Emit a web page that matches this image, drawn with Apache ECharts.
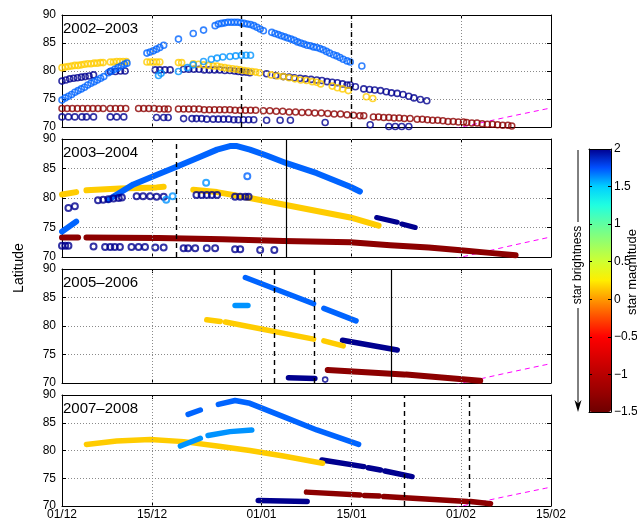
<!DOCTYPE html>
<html><head><meta charset="utf-8">
<script src="https://cdn.jsdelivr.net/npm/echarts@6/dist/echarts.min.js"></script>
<style>html,body{margin:0;padding:0;background:#fff}#c{width:637px;height:523px}</style>
</head><body><div id="c"></div>
<script>
// ---------- axes / labels ----------
const tickDays = [0, 14, 31, 45, 62, 76];
const tickLabels = ['01/12', '15/12', '01/01', '15/01', '01/02', '15/02'];
const panelTitles = ['2002–2003', '2003–2004', '2005–2006', '2007–2008'];
const magMin = -1.5, magMax = 2;
// colormap from -1.5 to 2 in steps of 0.25
const cmapColors = ['#6e0000','#960000','#b80000','#dc0000','#ff0000','#ff4a00','#ff9900','#ffee00','#d0ff30','#98ff68','#60ffa0','#20ffe0','#00d0ff','#0050ff','#00008f'];
// star magnitudes
const starMag = { blue: 1.71, lightBlue: 1.62, yellow: 0.15, navy: 2.0, darkRed: -1.31 };

// ---------- Panel 1 (2002-2003) : individual markers ----------
const p1Blue = [[0,74.8],[0.5,75.2],[1,75.5],[1.5,75.8],[2,76.2],[2.5,76.5],[3,76.8],[3.5,77.1],[4,77.5],[4.5,77.8],[5,78.1],[5.5,78.4],[6,78.7],[6.5,79.0],
 [7.2,79.7],[7.7,80.0],[8.2,80.3],[8.7,80.6],[9.2,80.9],[9.7,81.2],[10.1,81.4],
 [13.2,83.2],[13.7,83.4],[14.2,83.6],[14.7,83.9],[15.2,84.2],[15.8,84.6],
 [18.1,85.7],[20.4,86.7],[22,87.3],[23.8,88.1],[24.3,88.4],[24.8,88.5],[25.3,88.6],[25.8,88.7],[26.3,88.7],[26.8,88.7],[27.3,88.7],[27.8,88.6],[28.3,88.5],[28.8,88.4],[29.3,88.3],[29.8,88.1],[30.3,87.8],[30.8,87.5],[31.3,87.2],
 [32.6,86.9],[33.1,86.7],[33.6,86.5],[34.1,86.3],[34.6,86.1],[35.1,85.9],[35.6,85.7],[36.1,85.5],[36.6,85.2],[37.1,85.0],[37.6,84.8],[38.1,84.6],[38.6,84.5],[39.1,84.3],[39.6,84.2],[40.1,84.0],[40.6,83.8],[41.1,83.5],[41.6,83.2],[42.2,82.9],[42.7,82.7],[43.2,82.4],[43.7,82.1],[44.3,81.8],[44.8,81.6],[46.6,80.9]];
const p1LightBlue = [[15.0,79.2],[15.4,79.6],[18.1,79.9],[19.5,80.6],[20.4,81.1],[22,81.7],[23.2,82.1],[24.1,82.3],[25,82.5],[26.1,82.6],[27,82.7],[27.9,82.8],[28.6,82.8],[29.3,82.8]];
const p1Yellow = [[0,80.6],[0.5,80.7],[1,80.8],[1.5,80.9],[2,81.0],[2.5,81.0],[3,81.1],[3.5,81.2],[4,81.3],[4.5,81.3],[5,81.4],[5.5,81.4],[6,81.5],[6.4,81.5],
 [7.5,81.6],[8,81.6],[8.5,81.7],[9,81.7],[9.5,81.7],[10,81.7],
 [13.2,81.6],[13.7,81.6],[14.2,81.6],[14.7,81.6],[15.2,81.6],
 [18.1,81.5],[18.6,81.5],[20.4,81.3],[21.2,81.2],[22,81.1],[22.8,81.0],[23.5,80.9],[24.1,80.9],[24.7,80.7],[25.3,80.6],[25.9,80.5],[26.5,80.4],[27.1,80.3],[27.7,80.2],[28.3,80.1],[28.9,80.0],[29.5,79.9],[30.1,79.8],[30.7,79.7],
 [32.5,79.3],[33.5,79.1],[34.4,79.0],[35.3,78.8],[36.2,78.6],[37.1,78.4],[38,78.3],[38.9,78.1],[39.6,78.0],[40.2,77.7],[42,77.3],[42.8,77.0],[43.6,76.8],[44.5,76.5],[47.3,75.4],[48.3,75.1]];
const p1Navy = [[0,78.2],[0.6,78.4],[1.2,78.6],[1.8,78.7],[2.4,78.8],[3,78.9],[3.6,79.0],[4.2,79.1],[4.9,79.3],
 [7.5,79.9],[8.3,79.9],[9.1,80.0],[9.8,80.0],
 [14.5,80.2],[15.2,80.2],[16,80.2],[16.8,80.2],
 [18.9,80.3],[19.7,80.3],[20.5,80.3],[21.3,80.3],[22.1,80.2],[22.9,80.2],[23.7,80.2],[24.5,80.2],[25.3,80.1],[26.1,80.1],[26.8,80.0],[27.4,79.9],[28,79.8],[28.6,79.8],[29.2,79.7],
 [31.8,79.5],[33.2,79.2],[34.4,79.0],[35.3,78.9],[36.1,78.8],[37,78.7],[37.8,78.6],[38.7,78.5],[39.6,78.4],[40.4,78.3],[41.2,78.1],[42,78.0],[42.8,77.9],[43.6,77.7],[44.3,77.5],[44.8,77.5],[45.6,77.2],
 [46.9,76.8],[47.8,76.7],[48.6,76.6],[49.5,76.5],[50.4,76.3],[51.2,76.1],[52.1,76.0],[53.0,75.8],[53.9,75.5],[54.7,75.2],[55.7,74.9],[56.7,74.7]];
const p1DarkRed = [[0,73.3],[0.8,73.3],[1.6,73.3],[2.4,73.3],[3.2,73.3],[4,73.3],[4.8,73.3],[5.6,73.3],[6.4,73.3],
 [7.5,73.3],[8.3,73.3],[9.1,73.3],[9.9,73.3],
 [11.9,73.3],[12.7,73.3],[13.5,73.3],[14.3,73.3],[15.1,73.2],[15.9,73.2],[16.5,73.2],
 [18.1,73.2],[18.9,73.2],[19.7,73.2],[20.5,73.2],[21.3,73.2],[22.1,73.1],[22.9,73.1],[23.7,73.1],[24.5,73.1],[25.3,73.1],[26.1,73.1],[26.9,73.0],[27.7,73.0],[28.5,73.0],[29.3,73.0],[30.1,73.0],
 [31.3,72.9],[32.3,72.9],[33.3,72.8],[34.3,72.8],[35.3,72.7],[36.3,72.7],[37.3,72.6],[38.3,72.6],[39.3,72.5],[40.3,72.5],[41.3,72.4],[42.3,72.3],[43.3,72.3],[44.3,72.2],[45.3,72.1],[46.3,72.0],[46.9,72.0],
 [48.4,71.8],[49.2,71.8],[50,71.7],[50.8,71.7],[51.6,71.6],[52.4,71.6],[53.2,71.5],[54.1,71.5],
 [55.2,71.4],[56,71.4],[56.8,71.3],[57.6,71.2],[58.4,71.2],[59.2,71.1],[60,71.0],[60.8,71.0],[61.6,70.9],[62.4,70.9],
 [62.9,70.8],[63.7,70.7],[64.5,70.7],[65.3,70.6],[66.1,70.5],[66.9,70.5],[67.7,70.4],[68.5,70.3],[69.3,70.3],[69.9,70.2]];
const p1NavyLow = [[0,71.8],[1,71.8],[2,71.8],[3.1,71.8],[3.8,71.8],[4.9,71.8],[7.5,71.8],[8.5,71.8],[9.6,71.8],
 [14.7,71.7],[15.8,71.7],[16.5,71.7],
 [18.9,71.5],[20.2,71.5],[20.9,71.5],[21.7,71.5],[22.5,71.4],[23.5,71.4],[24.3,71.4],[25.1,71.4],[25.9,71.4],[26.7,71.3],[27.4,71.3],[28.2,71.3],[29.0,71.3],[29.8,71.3],
 [31.8,71.2],[33.9,71.2],[35.5,71.2],[40.9,70.8],[47.9,70.4],[50.8,70.1],[51.8,70.1],[52.8,70.1],[53.9,70.1]];

// ---------- Panel 2 (2003-2004) ----------
const p2Blue = [[[0,74.3],[2.2,76.0]],
 [[7.2,79.7],[11.1,82.3],[14.2,83.7],[17.8,85.3],[21.5,87.0],[24.1,88.2],[26.1,88.8],[27.2,88.8],[29.2,88.2],[31.8,87.2],[34.9,85.9],[39.6,84.2],[44.8,81.9],[46.3,81.1]]];
const p2LightBluePts = [[16.2,79.7],[17.2,80.3],[22.4,82.6]];
const p2BluePts = [[28.8,83.7]];
const p2Yellow = [[[0,80.6],[2.2,81.0]],
 [[3.8,81.3],[9,81.6],[14.7,81.8],[15.8,81.9]],
 [[20.4,81.4],[24.1,81.0],[29.2,80.0],[34.4,78.9],[39.6,77.8],[44.8,76.7],[49.2,75.3]]];
const p2NavyPts = [[1.0,78.3],[2.0,78.6],[5.6,79.6],[6.4,79.7],[7.2,79.8],[8.0,79.9],[8.8,80.0],[9.3,80.1],
 [11.6,80.3],[12.6,80.3],[13.7,80.3],[14.7,80.2],[15.8,80.2],
 [20.9,80.5],[21.7,80.5],[22.5,80.5],[23.3,80.5],[24.1,80.5],[26.9,80.2],[27.7,80.2],[28.5,80.2],[29.0,80.2]];
const p2Navy = [[[48.9,76.7],[52.1,75.9]], [[52.8,75.6],[54.9,75.0]]];
const p2DarkRed = [[[0,73.3],[2.5,73.3]],
 [[3.8,73.3],[15,73.2],[25,73.0],[34.4,72.7],[44.8,72.5],[51,72.0],[57,71.6],[62.4,71.1],[66.5,70.7],[70.5,70.3]]];
const p2NavyLow = [[0,71.9],[0.5,71.9],[1.0,71.9],[4.9,71.8],[6.7,71.7],[7.5,71.7],[8.2,71.7],[9.0,71.7],
 [10.8,71.7],[11.9,71.7],[12.9,71.7],[14.5,71.6],[15.8,71.6],[18.9,71.5],[19.6,71.5],[20.7,71.5],
 [22.5,71.5],[23.8,71.5],[26.9,71.3],[27.7,71.3],[30.8,71.2],[33.0,71.2]];

// ---------- Panel 3 (2005-2006) ----------
const p3Blue = [[[28.5,88.5],[39.1,83.9]], [[40.7,83.1],[45.7,80.9]]];
const p3LightBlue = [[[26.9,83.6],[28.9,83.6]]];
const p3Yellow = [[[22.5,81.1],[24.6,80.8]], [[25.4,80.7],[39.1,77.7]], [[40.7,77.4],[43.7,76.5]]];
const p3Navy = [[[43.6,77.5],[52.1,75.8]], [[35.2,70.9],[39.3,70.8]]];
const p3NavyPts = [[40.9,70.6]];
const p3DarkRed = [[[41.3,72.3],[53.1,71.5]], [[53.5,71.5],[65,70.4]]];

// ---------- Panel 4 (2007-2008) ----------
const p4Blue = [[[19.6,86.5],[21.5,87.3]], [[24.3,88.3],[26.9,89.0],[29.2,88.5],[34.4,86.1],[39.6,83.7],[46.1,81.1]]];
const p4LightBlue = [[[18.4,80.8],[21.5,82.2]], [[22.7,82.7],[26.1,83.4],[29.5,83.7]]];
const p4Yellow = [[[3.8,81.1],[8.5,81.7],[13.7,82.0],[18.9,81.6],[24.1,80.8],[29.2,80.0],[34.4,79.0],[40.5,77.7]]];
const p4Navy = [[[40.4,78.3],[46.9,77.1]], [[47.6,76.9],[49.5,76.5]], [[50.2,76.3],[54.4,75.3]], [[30.5,71.0],[38.1,70.8]]];
const p4DarkRed = [[[38,72.5],[46.3,72.0]], [[47,71.9],[49.3,71.8]], [[50,71.7],[63,70.8]], [[63.5,70.8],[66.6,70.4]]];

// ---------- event lines and limit curve ----------
const dashedDays = [[27.8, 44.9], [17.8], [33.0, 39.2], [53.2, 63.3]];
const solidDays = [[], [34.9], [51.2], []];
const limitCurve = [[61,69.7],[68.5,71.6],[76,73.4]];

// ---------- helpers ----------
function hexToRgb(h){return [parseInt(h.slice(1,3),16),parseInt(h.slice(3,5),16),parseInt(h.slice(5,7),16)];}
function magColor(m){
  const t = (m - magMin) / (magMax - magMin) * (cmapColors.length - 1);
  const i = Math.max(0, Math.min(cmapColors.length - 2, Math.floor(t)));
  const f = Math.min(1, Math.max(0, t - i));
  const a = hexToRgb(cmapColors[i]), b = hexToRgb(cmapColors[i+1]);
  const c = a.map((v,k)=>Math.round(v + (b[k]-v)*f));
  return 'rgb(' + c.join(',') + ')';
}
const FONT = '"Liberation Sans", Arial, Helvetica, sans-serif';
const layout = [{top:15,height:112},{top:139,height:118},{top:269,height:114},{top:395,height:111}];
const LEFT = 62, WIDTH = 489;

const grid = [], xAxis = [], yAxis = [], series = [];
// dummy series (visualMap target)
series.push({type:'scatter', data:[], xAxisIndex:0, yAxisIndex:0, silent:true});

layout.forEach((g,i)=>{
  grid.push({left:LEFT, width:WIDTH, top:g.top, height:g.height, show:false, outerBoundsMode:'none'});
  const axLine = {show:true, onZero:false, lineStyle:{color:'#000', width:1}};
  xAxis.push({gridIndex:i, type:'value', min:0, max:76, position:'bottom', axisLine:axLine,
    axisTick:{show:true, inside:true, length:4, customValues:tickDays, lineStyle:{color:'#000'}},
    axisLabel:{show:i===3, customValues:tickDays, margin:3, fontSize:12, color:'#000', fontFamily:FONT,
      formatter:v=>{const k=tickDays.indexOf(v);return k>=0?tickLabels[k]:'';}},
    splitLine:{show:false}});
  xAxis.push({gridIndex:i, type:'value', min:0, max:76, position:'top', axisLine:axLine,
    axisTick:{show:true, inside:true, length:4, customValues:tickDays, lineStyle:{color:'#000'}},
    axisLabel:{show:false}, splitLine:{show:false}});
  yAxis.push({gridIndex:i, type:'value', min:70, max:90, interval:5, position:'left', axisLine:axLine,
    axisTick:{show:true, inside:true, length:4, lineStyle:{color:'#000'}},
    axisLabel:{margin:6, fontSize:12, color:'#000', fontFamily:FONT},
    splitLine:{show:true, lineStyle:{type:[1,2], color:'#8a8a8a', width:1}}});
  yAxis.push({gridIndex:i, type:'value', min:70, max:90, interval:5, position:'right', axisLine:axLine,
    axisTick:{show:true, inside:true, length:4, lineStyle:{color:'#000'}},
    axisLabel:{show:false}, splitLine:{show:false}});
  // vertical grid lines + event lines
  const ml = tickDays.filter(d=>d>0 && d<76).map(d=>({xAxis:d, lineStyle:{type:[1,2], color:'#8a8a8a', width:1}}));
  dashedDays[i].forEach(d=>ml.push({xAxis:d, lineStyle:{type:[5,4], color:'#000', width:1.4}}));
  solidDays[i].forEach(d=>ml.push({xAxis:d, lineStyle:{type:'solid', color:'#000', width:1.2}}));
  series.push({type:'line', data:[], xAxisIndex:2*i, yAxisIndex:2*i, silent:true, z:1,
    markLine:{silent:true, symbol:'none', label:{show:false}, animation:false, data:ml}});
});

function pts(panel, data, star, size, bw){
  series.push({type:'scatter', xAxisIndex:2*panel, yAxisIndex:2*panel, data:data, symbol:'circle', symbolSize:size,
    itemStyle:{color:'rgba(0,0,0,0)', borderColor:magColor(starMag[star]), borderWidth:bw}, silent:true, z:3});
}
function tracks(panel, segs, star, w){
  segs.forEach(s=>series.push({type:'line', xAxisIndex:2*panel, yAxisIndex:2*panel, data:s, showSymbol:false, silent:true, z:3,
    lineStyle:{color:magColor(starMag[star]), width:w, cap:'round', join:'round'}}));
}
function limit(panel){
  series.push({type:'line', xAxisIndex:2*panel, yAxisIndex:2*panel, data:limitCurve, smooth:true, showSymbol:false, silent:true, z:2,
    lineStyle:{color:'#ff00ff', width:1, type:[5,4]}});
}

// Panel 1
pts(0, p1DarkRed, 'darkRed', 6, 1.5);
pts(0, p1NavyLow, 'navy', 6, 1.6);
pts(0, p1Navy, 'navy', 6, 1.6);
pts(0, p1Yellow, 'yellow', 6, 1.6);
pts(0, p1Blue, 'blue', 6, 1.6);
pts(0, p1LightBlue, 'lightBlue', 6, 1.6);
limit(0);
// Panel 2
tracks(1, p2DarkRed, 'darkRed', 6);
pts(1, p2NavyLow, 'navy', 6, 2);
pts(1, p2NavyPts, 'navy', 6, 2);
tracks(1, p2Navy, 'navy', 5);
tracks(1, p2Yellow, 'yellow', 6);
tracks(1, p2Blue, 'blue', 6);
pts(1, p2LightBluePts, 'lightBlue', 6, 2);
pts(1, p2BluePts, 'blue', 6, 2);
limit(1);
// Panel 3
tracks(2, p3DarkRed, 'darkRed', 6);
tracks(2, p3Navy, 'navy', 5.5);
pts(2, p3NavyPts, 'navy', 5, 1.6);
tracks(2, p3Yellow, 'yellow', 5.5);
tracks(2, p3LightBlue, 'lightBlue', 5.5);
tracks(2, p3Blue, 'blue', 5.5);
limit(2);
// Panel 4
tracks(3, p4DarkRed, 'darkRed', 5.5);
tracks(3, p4Navy, 'navy', 5.5);
tracks(3, p4Yellow, 'yellow', 5.5);
tracks(3, p4LightBlue, 'lightBlue', 5.5);
tracks(3, p4Blue, 'blue', 5.5);
limit(3);

// colorbar grid
const CB = {left:589, top:149, width:22, height:263};
grid.push({left:CB.left, top:CB.top, width:CB.width, height:CB.height, show:false, outerBoundsMode:'none'});
const cbLine = {show:true, onZero:false, lineStyle:{color:'#000', width:1}};
xAxis.push({gridIndex:4, type:'value', min:0, max:1, position:'bottom', z:10, axisLine:cbLine, axisTick:{show:false}, axisLabel:{show:false}, splitLine:{show:false}});
xAxis.push({gridIndex:4, type:'value', min:0, max:1, position:'top', z:10, axisLine:cbLine, axisTick:{show:false}, axisLabel:{show:false}, splitLine:{show:false}});
yAxis.push({gridIndex:4, type:'value', min:magMin, max:magMax, interval:0.5, position:'right', z:10, axisLine:cbLine,
  axisTick:{show:true, inside:true, length:3, lineStyle:{color:'#000'}},
  axisLabel:{margin:3, fontSize:12, color:'#000', fontFamily:FONT, formatter:v=>String(v).replace('-', '\u2212')}, splitLine:{show:false}});
yAxis.push({gridIndex:4, type:'value', min:magMin, max:magMax, interval:0.5, position:'left', z:10, axisLine:cbLine,
  axisTick:{show:true, inside:true, length:3, lineStyle:{color:'#000'}}, axisLabel:{show:false}, splitLine:{show:false}});
series.push({type:'scatter', data:[], xAxisIndex:8, yAxisIndex:8, silent:true});

const graphic = [];
panelTitles.forEach((t,i)=>graphic.push({type:'text', x:LEFT+1, y:layout[i].top+6,
  style:{text:t, font:'15px ' + FONT, fill:'#000', textAlign:'left', textVerticalAlign:'top'}}));
graphic.push({type:'text', x:19, y:268, rotation:Math.PI/2, style:{text:'Latitude', font:'14px ' + FONT, fill:'#000', textAlign:'center', textVerticalAlign:'middle'}});
graphic.push({type:'text', x:632, y:272, rotation:Math.PI/2, style:{text:'star magnitude', font:'13px ' + FONT, fill:'#000', textAlign:'center', textVerticalAlign:'middle'}});
graphic.push({type:'text', x:578, y:265, rotation:Math.PI/2, style:{text:'star brightness', font:'12px ' + FONT, fill:'#000', textAlign:'center', textVerticalAlign:'middle'}});
graphic.push({type:'line', shape:{x1:578, y1:150, x2:578, y2:222}, style:{stroke:'#000', lineWidth:1}});
graphic.push({type:'line', shape:{x1:578, y1:308, x2:578, y2:404}, style:{stroke:'#000', lineWidth:1}});
graphic.push({type:'polygon', shape:{points:[[574.5,400],[578,403.5],[581.5,400],[578,412]]}, style:{fill:'#000'}});

const chart = echarts.init(document.getElementById('c'), null, {renderer:'canvas'});
chart.setOption({
  animation:false,
  backgroundColor:'#fff',
  textStyle:{fontFamily:FONT},
  grid, xAxis, yAxis, series, graphic,
  visualMap:{type:'continuous', min:magMin, max:magMax, seriesIndex:[0], orient:'vertical',
    left:CB.left, top:CB.top, itemWidth:CB.width, itemHeight:CB.height, padding:0,
    calculable:false, hoverLink:false, realtime:false, inRange:{color:cmapColors}, text:null, showLabel:false}
});
</script></body></html>
